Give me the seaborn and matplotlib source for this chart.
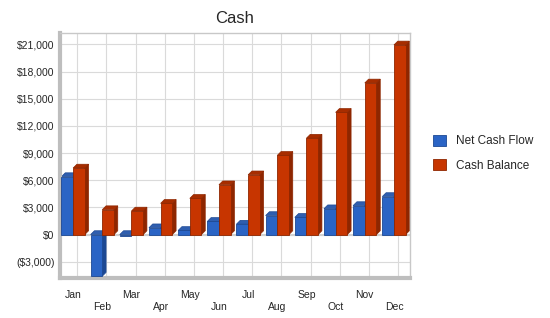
import pandas as pd
import numpy as np
import seaborn as sns
import matplotlib.pyplot as plt
from matplotlib.patches import Polygon, Patch
from matplotlib.ticker import FuncFormatter, MultipleLocator

# Data
months = ['Jan', 'Feb', 'Mar', 'Apr', 'May', 'Jun', 'Jul', 'Aug', 'Sep', 'Oct', 'Nov', 'Dec']
net_cash_flow = [6400, -4600, -150, 750, 450, 1450, 1150, 2100, 1900, 2850, 3200, 4200]
cash_balance = [7350, 2750, 2600, 3450, 4000, 5500, 6600, 8750, 10650, 13500, 16750, 20950]
series = ['Net Cash Flow', 'Cash Balance']

face = {'Net Cash Flow': '#2A64C5', 'Cash Balance': '#C73500'}
side = {'Net Cash Flow': '#1C4893', 'Cash Balance': '#8E2600'}
top = {'Net Cash Flow': '#2F5EAF', 'Cash Balance': '#A72D00'}

df = pd.DataFrame({
    'Month': months * 2,
    'Value': net_cash_flow + cash_balance,
    'Series': [series[0]] * 12 + [series[1]] * 12,
})

sns.set_style('white')
plt.rcParams['font.family'] = ['Liberation Sans', 'DejaVu Sans']

fig = plt.figure(figsize=(5.5, 3.18), dpi=100)
ax = fig.add_axes([60 / 550, 1 - 278 / 318, 350 / 550, 245 / 318])

sns.barplot(ax=ax, data=df, x='Month', y='Value', hue='Series', order=months,
            hue_order=series, palette=face, width=0.8, saturation=1,
            legend=False, zorder=3)

ax.set_xlim(-0.45, 11.55)
ax.set_ylim(-4800, 22270)

# fake 3D depth: side and top faces behind the fronts
dx, dy = 0.13, 420
for i, s in enumerate(series):
    cont = ax.containers[i]
    for bar in cont:
        bar.set_edgecolor(side[s])
        bar.set_linewidth(0.6)
        x, w = bar.get_x(), bar.get_width()
        y0 = min(bar.get_y(), bar.get_y() + bar.get_height())
        y1 = max(bar.get_y(), bar.get_y() + bar.get_height())
        ax.add_patch(Polygon([(x + w, y0), (x + w + dx, y0 + dy), (x + w + dx, y1 + dy), (x + w, y1)],
                             closed=True, facecolor=side[s], edgecolor=side[s], lw=0.5, zorder=2))
        ax.add_patch(Polygon([(x, y1), (x + dx, y1 + dy), (x + w + dx, y1 + dy), (x + w, y1)],
                             closed=True, facecolor=top[s], edgecolor=side[s], lw=0.5, zorder=2))

ax.axhline(0, color='#D0D0D0', lw=1.5, zorder=1)

ax.yaxis.set_major_locator(MultipleLocator(3000))
ax.yaxis.set_major_formatter(FuncFormatter(
    lambda v, p: f'${v:,.0f}' if v >= 0 else f'(${-v:,.0f})'))
ax.grid(True, axis='y', color='#DADADA', lw=0.8, zorder=0)
# vertical grid on the back wall, shifted by the depth
for k in range(12):
    ax.axvline(k + 0.14, color='#DADADA', lw=0.8, zorder=0)
ax.set_axisbelow(True)

ax.set_xticks(range(12))
ax.set_xticklabels([m if i % 2 == 0 else '\n' + m for i, m in enumerate(months)])
ax.tick_params(axis='x', length=4, color='#C0C0C0', labelsize=7.5, pad=5)
ax.tick_params(axis='y', length=0, labelsize=7.5, pad=4)
ax.set_xlabel('')
ax.set_ylabel('')

for sp in ['top', 'right']:
    ax.spines[sp].set_color('#C8C8C8')
    ax.spines[sp].set_linewidth(1)
for sp in ['left', 'bottom']:
    ax.spines[sp].set_color('#BEBEBE')
    ax.spines[sp].set_linewidth(3)

ax.set_title('Cash', fontsize=12, pad=7)

handles = [Patch(facecolor=face[s], edgecolor=side[s], lw=0.6) for s in series]
fig.legend(handles, series, loc='upper left', bbox_to_anchor=(422 / 550, 1 - 124 / 318),
           frameon=False, fontsize=8.5, handlelength=1.1, handleheight=1.1,
           labelspacing=1.0, handletextpad=0.9)

fig.savefig('out.png', dpi=100)
